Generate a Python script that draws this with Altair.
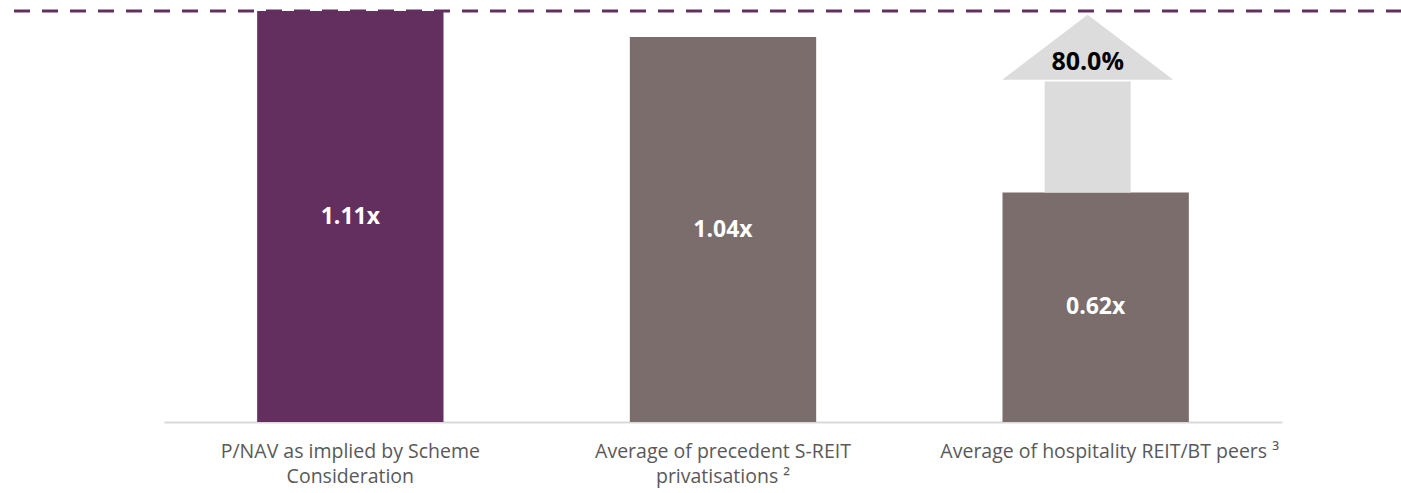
import altair as alt
import pandas as pd

# ---- data ----
categories = [
    "P/NAV as implied by Scheme|Consideration",
    "Average of precedent S-REIT|privatisations \u00b2",
    "Average of hospitality REIT/BT peers \u00b3",
]
values = [1.11, 1.04, 0.62]
value_labels = ["1.11x", "1.04x", "0.62x"]
bar_colors = ["#632f5f", "#7a6d6b", "#7a6d6b"]

reference_value = 1.11          # dashed line = scheme consideration P/NAV
arrow_category = categories[2]
arrow_base = 0.62
arrow_neck = 0.92
arrow_tip = 1.10
arrow_label = "80.0%"

PURPLE = "#632f5f"
FONT = "Open Sans"

bars_df = pd.DataFrame({
    "category": categories,
    "value": values,
    "label": value_labels,
    "color": bar_colors,
})
bars_df["mid"] = bars_df["value"] / 2

arrow_df = pd.DataFrame({
    "category": [arrow_category],
    "base": [arrow_base],
    "neck": [arrow_neck],
    "tip": [arrow_tip],
    "label": [arrow_label],
})

ref_df = pd.DataFrame({"ref": [reference_value]})

x_enc = alt.X(
    "category:N",
    sort=categories,
    scale=alt.Scale(range=[164, 1282], paddingInner=0.5, paddingOuter=0.25),
    axis=alt.Axis(
        title=None,
        labelExpr="split(datum.label, '|')",
        domainColor="#d9d9d9",
        domainWidth=2,
        ticks=False,
        labelAngle=0,
        labelFont=FONT,
        labelFontSize=19.5,
        labelColor="#595959",
        labelLineHeight=25,
        labelPadding=20,
        labelBaseline="top",
        labelLimit=0,
        labelOffset={"condition": {"test": "indexof(datum.value, 'hospitality') >= 0", "value": 14}, "value": 0},
        grid=False,
    ),
)
y_scale = alt.Scale(domain=[0, 1.14], nice=False, zero=True)

bars = alt.Chart(bars_df).mark_bar().encode(
    x=x_enc,
    y=alt.Y("value:Q", scale=y_scale, axis=None),
    color=alt.Color("color:N", scale=None),
)

bar_text = alt.Chart(bars_df).mark_text(
    color="white", fontWeight="bold", fontSize=23, font=FONT, baseline="middle"
).encode(
    x=alt.X("category:N", sort=categories),
    y=alt.Y("mid:Q", scale=y_scale, axis=None),
    text="label:N",
)

ref_rule = alt.Chart(ref_df).mark_rule(
    color=PURPLE, strokeWidth=3, strokeDash=[16, 12]
).encode(
    y=alt.Y("ref:Q", scale=y_scale, axis=None),
    x=alt.value(14),
    x2=alt.value(1401),
)

shaft = alt.Chart(arrow_df).mark_bar(color="#dcdcdc", width=86, xOffset=-8).encode(
    x=alt.X("category:N", sort=categories),
    y=alt.Y("base:Q", scale=y_scale, axis=None),
    y2="neck:Q",
)

# arrow head: triangle whose apex sits exactly on the tip value
head = alt.Chart(arrow_df).mark_point(
    shape="M-1,0.76L0,0L1,0.76Z",
    size=29241,
    filled=True,
    color="#dcdcdc",
    fill="#dcdcdc",
    opacity=1,
    fillOpacity=1,
    strokeWidth=0,
    xOffset=-8,
).encode(
    x=alt.X("category:N", sort=categories),
    y=alt.Y("tip:Q", scale=y_scale, axis=None),
)

arrow_text = alt.Chart(arrow_df).mark_text(
    color="black", fontWeight="bold", fontSize=25, font=FONT, baseline="middle",
    dy=-19, xOffset=-8,
).encode(
    x=alt.X("category:N", sort=categories),
    y=alt.Y("neck:Q", scale=y_scale, axis=None),
    text="label:N",
)

chart = alt.layer(bars, shaft, head, bar_text, arrow_text, ref_rule).properties(
    width=1401,
    height=422,
    padding={"left": 0, "right": 0, "top": 0, "bottom": 71},
    autosize=alt.AutoSizeParams(type="none"),
    background="white",
).configure_view(stroke=None)

chart.save("out.html", embed_options={"renderer": "svg", "actions": False})
